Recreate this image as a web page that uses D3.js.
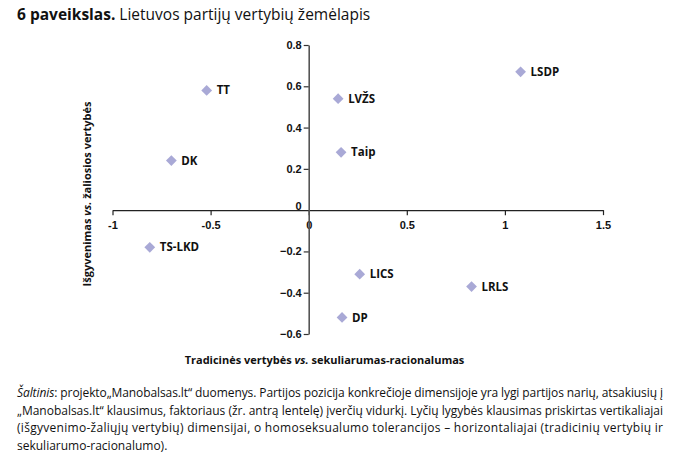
<!DOCTYPE html>
<html><head><meta charset="utf-8">
<script src="https://cdn.jsdelivr.net/npm/d3@7"></script>
<style>
body{margin:0;background:#fff;}
svg{display:block;font-family:"Open Sans",sans-serif;}
</style></head>
<body><svg id="c" width="680" height="464"></svg>
<script>
const parties = ["LSDP","TT","LVŽS","Taip","DK","TS-LKD","LICS","LRLS","DP"];
const xValues = [1.08,-0.52,0.15,0.165,-0.70,-0.81,0.26,0.83,0.17];
const yValues = [0.67,0.58,0.54,0.28,0.24,-0.18,-0.31,-0.37,-0.52];
const xTicks = [-1,-0.5,0,0.5,1,1.5];
const yTicks = [-0.6,-0.4,-0.2,0,0.2,0.4,0.6,0.8];
const captionLines = [
  "projekto„Manobalsas.lt“ duomenys. Partijos pozicija konkrečioje dimensijoje yra lygi partijos narių, atsakiusių į",
  "„Manobalsas.lt“ klausimus, faktoriaus (žr. antrą lentelę) įverčių vidurkį. Lyčių lygybės klausimas priskirtas vertikaliajai",
  "(išgyvenimo-žaliųjų vertybių) dimensijai, o homoseksualumo tolerancijos – horizontaliajai (tradicinių vertybių ir",
  "sekuliarumo-racionalumo)."
];

const svg = d3.select("#c");
const x = d3.scaleLinear().domain([-1,1.5]).range([112.5,603]);
const y = d3.scaleLinear().domain([-0.6,0.8]).range([334,45]);

// title
const t = svg.append("text").attr("x",17).attr("y",20).attr("font-size",15.5).attr("fill","#111");
t.append("tspan").attr("font-weight","bold").text("6 paveikslas.");
t.append("tspan").text(" Lietuvos partijų vertybių žemėlapis");

// x axis
const xAxis = d3.axisBottom(x).tickValues(xTicks).tickSize(5).tickSizeOuter(0)
  .tickFormat(d=>String(d));
const gx = svg.append("g").attr("transform",`translate(0,${y(0)})`).call(xAxis);
gx.select(".domain").attr("stroke","#222").attr("stroke-width",1.2);
gx.selectAll(".tick line").attr("stroke","#222").attr("stroke-width",1.2);
gx.selectAll(".tick text").attr("font-size",11).attr("font-weight","bold").attr("fill","#111").attr("dy","0.6em").attr("y",12);

// y axis
const yAxis = d3.axisLeft(y).tickValues(yTicks).tickSize(5).tickSizeOuter(0)
  .tickFormat(d=>d===0?"0":d3.format(".1f")(d));
const gy = svg.append("g").attr("transform",`translate(${x(0)},0)`).call(yAxis);
gy.select(".domain").attr("stroke","#555").attr("stroke-width",1.6);
gy.selectAll(".tick line").attr("stroke","#333").attr("stroke-width",1.2);
gy.selectAll(".tick text").attr("font-size",11).attr("font-weight","bold").attr("fill","#111").attr("x",-7);
gy.selectAll(".tick").filter(d=>d===0).select("line").remove();
gy.selectAll(".tick").filter(d=>d===0).select("text").attr("dy","-0.1em");

// points
const data = parties.map((p,i)=>({p, x:xValues[i], y:yValues[i]}));
const diamond = d3.symbol().type(d3.symbolSquare).size(58);
svg.append("g").selectAll("path").data(data).join("path")
  .attr("d",diamond)
  .attr("transform",d=>`translate(${x(d.x)},${y(d.y)}) rotate(45)`)
  .attr("fill","#a9a9d6");
svg.append("g").selectAll("text").data(data).join("text")
  .attr("x",d=>x(d.x)+10).attr("y",d=>y(d.y)).attr("dy","0.35em")
  .attr("font-size",11.5).attr("font-weight","bold").attr("fill","#111")
  .text(d=>d.p);

// axis titles
const xt = svg.append("text").attr("x",324.5).attr("y",364).attr("text-anchor","middle")
  .attr("font-size",11).attr("font-weight","bold").attr("fill","#111");
xt.append("tspan").text("Tradicinės vertybės ");
xt.append("tspan").attr("font-style","italic").text("vs.");
xt.append("tspan").text(" sekuliarumas-racionalumas");

const yt = svg.append("text").attr("transform","translate(91,194) rotate(-90)").attr("text-anchor","middle")
  .attr("font-size",11).attr("font-weight","bold").attr("fill","#111");
yt.append("tspan").text("Išgyvenimas ");
yt.append("tspan").attr("font-style","italic").text("vs.");
yt.append("tspan").text(" žaliosios vertybės");

// caption
const cap = svg.append("g").attr("font-size",12).attr("fill","#111");
captionLines.forEach((line,i)=>{
  const tx = cap.append("text").attr("x",17).attr("y",397+i*17.7);
  if(i===0){
    tx.append("tspan").attr("font-style","italic").text("Šaltinis");
    tx.append("tspan").text(": "+line);
  } else tx.text(line);
  if(i<3) tx.attr("textLength",646).attr("lengthAdjust","spacing");
});
</script></body></html>
